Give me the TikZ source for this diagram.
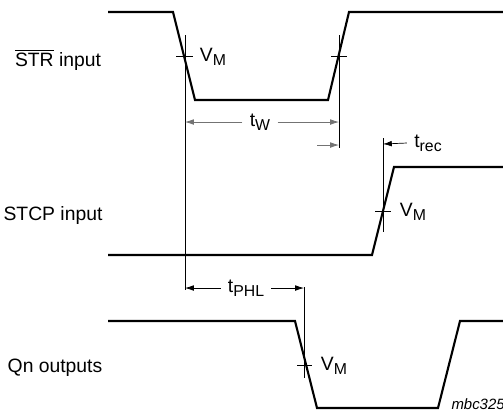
\documentclass[tikz,border=0pt]{standalone}
\usepackage{fontspec}
\setmainfont{Liberation Sans}
\usetikzlibrary{arrows.meta}

\newcommand{\lowsub}[1]{\raisebox{-0.4ex}{\fontsize{9}{10}\selectfont #1}}

\begin{document}
\begin{tikzpicture}[x=0.02cm, y=-0.02cm,
        signal/.style={line width=1.2pt, line join=miter},
        marker/.style={line width=0.4pt},
        timing/.style={-{Latex[length=5pt, width=3.2pt]}, line width=0.4pt},
        lbl/.style={font=\fontsize{11}{12}\selectfont, inner sep=0pt},
        tlbl/.style={font=\fontsize{11}{12}\selectfont, inner sep=4pt}]
        \useasboundingbox (0, 0) rectangle (503, 414);

        % signal names
        \node (str) at (58, 60)[lbl] {$\overline{\mbox{STR}}$ input};
        \node (stcp) at (53, 215)[lbl] {STCP input};
        \node (qn) at (55, 368)[lbl] {Qn outputs};

        % waveforms
        \draw[signal] (108, 12) -- (173, 12) -- (195, 100) -- (328, 100) -- (349, 12) -- (503, 12);
        \draw[signal] (108, 255) -- (372, 255) -- (394, 167) -- (503, 167);
        \draw[signal] (108, 321) -- (295, 321) -- (317, 408) -- (438, 408) -- (460, 321) -- (503, 321);

        % reference lines and V_M marks
        \draw[marker] (185, 35) -- (185, 290);
        \draw[marker] (339, 35) -- (339, 148);
        \draw[marker] (383, 138) -- (383, 232);
        \draw[marker] (304, 287) -- (304, 378);

        \draw[marker] (176, 56) -- (193, 56);
        \draw[marker] (331, 56) -- (347, 56);
        \draw[marker] (375, 211) -- (391, 211);
        \draw[marker] (297, 365) -- (312, 365);

        \node (vm1) at (213, 57)[lbl] {V\lowsub{M}};
        \node (vm2) at (413, 212)[lbl] {V\lowsub{M}};
        \node (vm3) at (334, 366)[lbl] {V\lowsub{M}};

        % pulse width
        \coordinate (twL) at (185, 122);
        \coordinate (twR) at (339, 122);
        \node (tw) at (260, 122)[tlbl] {t\lowsub{W}};
        \draw[timing, black!55] (tw.west) -- (twL);
        \draw[timing, black!55] (tw.east) -- (twR);

        % recovery time
        \coordinate (recL) at (317, 145);
        \coordinate (recA) at (339, 145);
        \coordinate (recB) at (383, 144);
        \draw[timing, black!55] (recL) -- (recA);
        \node (trec) at (428, 143)[tlbl] {t\lowsub{rec}};
        \draw[timing] (trec.west) -- (recB);

        % propagation delay
        \coordinate (phlL) at (185, 288);
        \coordinate (phlR) at (304, 288);
        \node (tphl) at (246, 288)[tlbl] {t\lowsub{PHL}};
        \draw[timing] (tphl.west) -- (phlL);
        \draw[timing] (tphl.east) -- (phlR);

        \node (code) at (505, 404)[anchor=east, inner sep=0pt, font=\fontsize{8.5}{10}\selectfont\itshape] {mbc325};
    \end{tikzpicture}
\end{document}
